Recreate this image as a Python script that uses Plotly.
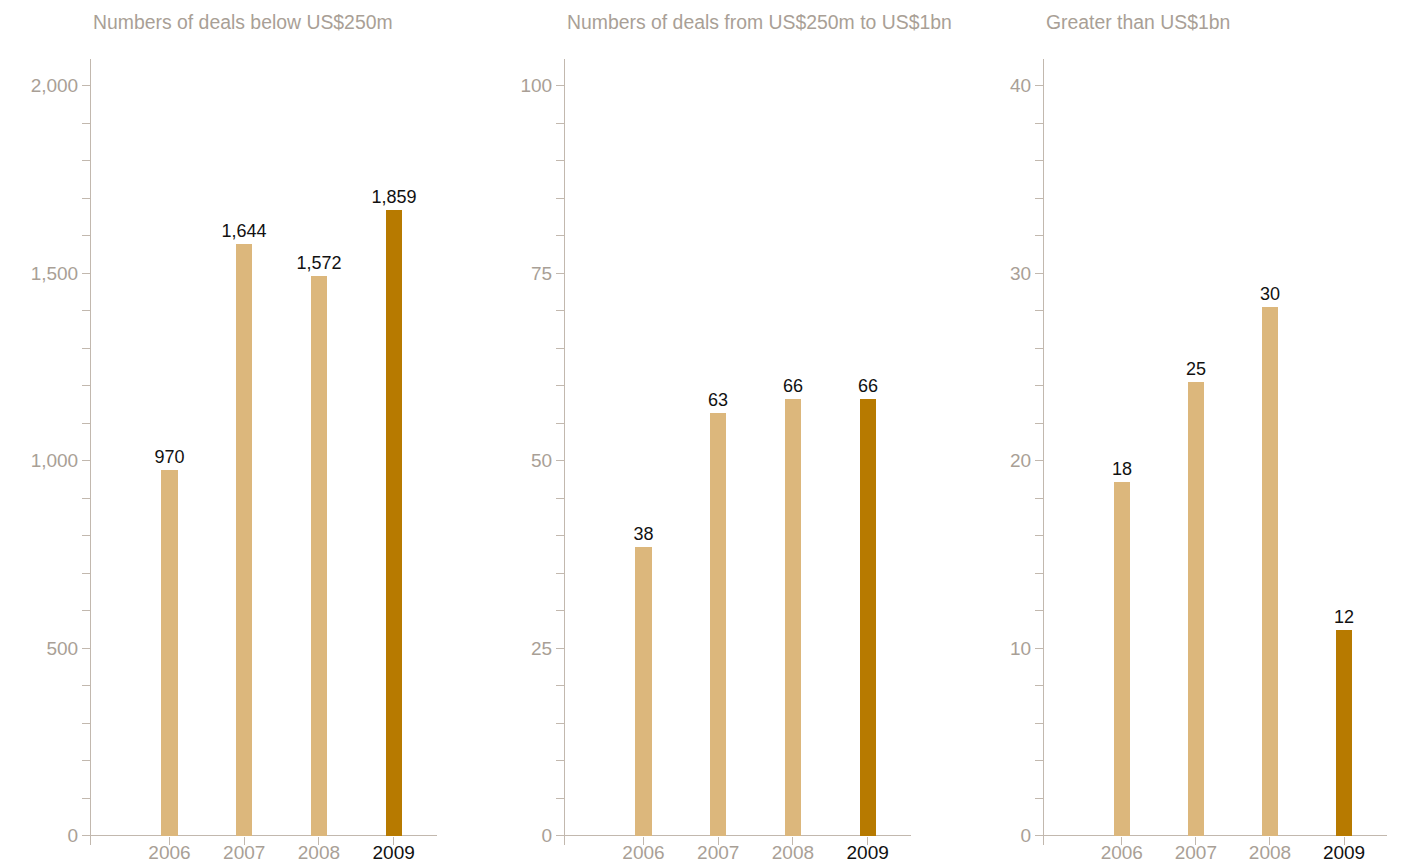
import plotly.graph_objects as go

years = ["2006", "2007", "2008", "2009"]

titles = [
    "Numbers of deals below US$250m",
    "Numbers of deals from US$250m to US$1bn",
    "Greater than US$1bn",
]

# bar heights as drawn against each axis
bars_small = [975, 1580, 1494, 1670]
bars_mid = [38.6, 56.4, 58.3, 58.3]
bars_large = [18.9, 24.2, 28.2, 11.0]

# values printed above the bars
labels_small = ["970", "1,644", "1,572", "1,859"]
labels_mid = ["38", "63", "66", "66"]
labels_large = ["18", "25", "30", "12"]

y_ticks_small = [0, 500, 1000, 1500, 2000]
y_ticks_mid = [0, 25, 50, 75, 100]
y_ticks_large = [0, 10, 20, 30, 40]

LIGHT = "#dcb77c"
DARK = "#b77a00"
AXIS = "#c2b8ae"
GREY_TXT = "#a99f96"
FONT = "Liberation Sans, Arial, sans-serif"

W, H = 1404, 863
x_domains = [(91, 437), (565, 911), (1044, 1387)]
y_bottom, y_top = 845, 58.5
zero_px = 835.5

panels = [
    (bars_small, labels_small, y_ticks_small, 100, 2000),
    (bars_mid, labels_mid, y_ticks_mid, 5, 100),
    (bars_large, labels_large, y_ticks_large, 2, 40),
]
top_tick_px = 85.5

fig = go.Figure()
colors = [LIGHT, LIGHT, LIGHT, DARK]
ticktext = [y if y != "2009" else f"<span style='color:#111111'>{y}</span>" for y in years]

for i, (vals, labs, yt, minor_dt, top_val) in enumerate(panels):
    n = i + 1
    xa = "x" if n == 1 else f"x{n}"
    ya = "y" if n == 1 else f"y{n}"
    fig.add_trace(go.Bar(
        x=years, y=vals, xaxis=xa, yaxis=ya,
        marker=dict(color=colors, line=dict(width=0)),
        width=0.215,
        text=labs, texttemplate="%{text}", textposition="outside",
        textangle=0, constraintext="none",
        textfont=dict(family=FONT, size=18, color="#111111"),
        cliponaxis=False, showlegend=False, hoverinfo="skip",
    ))
    ppu = (zero_px - top_tick_px) / top_val
    y_range = [-(y_bottom - zero_px) / ppu, (zero_px - y_top) / ppu]
    x0, x1 = x_domains[i]
    xkey = "xaxis" if n == 1 else f"xaxis{n}"
    ykey = "yaxis" if n == 1 else f"yaxis{n}"
    fig.layout[xkey] = dict(
        domain=[x0 / W, x1 / W], anchor=ya, type="category", automargin=False,
        range=[-1.05, 3.58], showgrid=False, showline=False, zeroline=False,
        ticks="inside", ticklen=8, tickcolor=AXIS, tickwidth=1,
        ticklabelstandoff=-6,
        tickmode="array", tickvals=years, ticktext=ticktext,
        tickfont=dict(family=FONT, size=19, color=GREY_TXT),
        fixedrange=True,
    )
    fig.layout[ykey] = dict(
        domain=[(H - y_bottom) / H, (H - y_top) / H], anchor=xa, automargin=False,
        range=y_range, showgrid=False, showline=True, linecolor=AXIS, linewidth=1,
        zeroline=True, zerolinecolor=AXIS, zerolinewidth=1,
        ticks="outside", ticklen=8, tickcolor=AXIS, tickwidth=1,
        tickmode="array", tickvals=yt, tickformat=",d",
        tickfont=dict(family=FONT, size=19, color=GREY_TXT),
        minor=dict(dtick=minor_dt, ticks="outside", ticklen=8, tickcolor=AXIS, tickwidth=1, showgrid=False),
        fixedrange=True,
    )
    fig.add_annotation(
        text=titles[i], xref=f"{xa} domain", yref="paper",
        x=0, y=(H - 22) / H, xanchor="left", yanchor="middle", showarrow=False,
        font=dict(family=FONT, size=19.4, color=GREY_TXT),
    )

fig.update_layout(
    width=W, height=H, margin=dict(l=0, r=0, t=0, b=0, autoexpand=False),
    paper_bgcolor="white", plot_bgcolor="white", bargap=0,
)

fig.write_html("out.html")
